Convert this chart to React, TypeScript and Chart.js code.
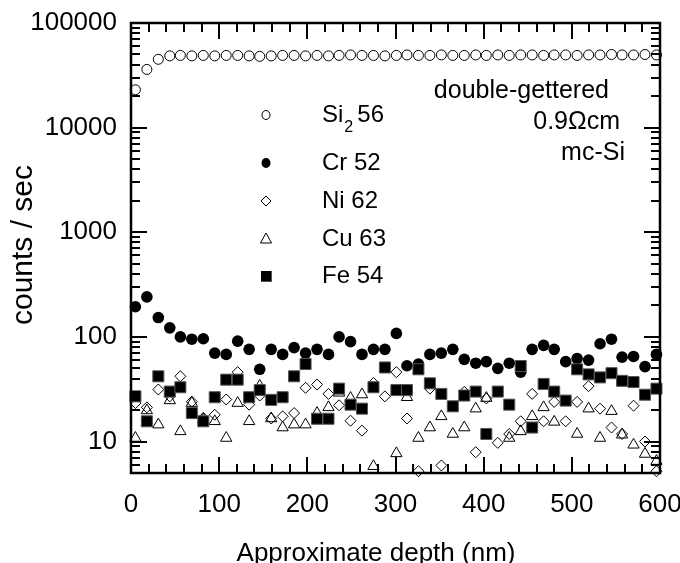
import React, { useEffect, useRef } from 'react';
import { Chart, registerables } from 'chart.js';

Chart.register(...registerables);

const FONT = '"Liberation Sans", Arial, Helvetica, sans-serif';

const depth = [5, 18, 31, 44, 56, 69, 82, 95, 108, 121, 134, 146, 159, 172, 185, 198, 211, 224, 236, 249, 262, 275, 288, 301, 313, 326, 339, 352, 365, 378, 391, 403, 416, 429, 442, 455, 468, 480, 493, 506, 519, 532, 545, 557, 570, 583, 596];

const si56 = [23000, 36000, 45000, 48500, 49000, 48500, 49000, 48500, 49000, 49000, 48500, 48000, 48500, 49000, 49000, 48500, 49000, 48500, 49000, 49500, 49000, 49000, 48500, 49000, 49500, 49000, 49000, 49500, 49000, 49000, 49500, 49000, 49500, 49000, 49500, 49500, 49000, 49500, 49500, 49000, 49500, 49500, 50000, 49500, 49500, 50000, 49500];

const cr52 = [194, 241, 153, 122, 100, 95, 96, 70, 68, 91, 76, 49, 76, 68, 79, 70, 76, 68, 100, 90, 68, 76, 76, 108, 53, 55, 68, 70, 76, 61, 56, 58, 50, 56, 46, 76, 83, 76, 58, 62, 60, 86, 95, 64, 65, 52, 68];

const ni62 = [23.3, 21.2, 31.4, 27, 42, 24, 16.8, 18, 25.2, 46, 22.5, 27.5, 16.6, 17.4, 18.7, 32.6, 35, 28.5, 22.2, 15.8, 12.7, 36.3, 27, 46, 16.6, 5.2, 32, 5.9, 21.7, 29.8, 7.9, 25.8, 9.7, 11.8, 15.6, 28.5, 15.6, 23.9, 15.6, 23.9, 33.8, 20.6, 13.6, 11.8, 22, 10, 5.2];

const cu63 = [10.8, 19.8, 14.5, 24.7, 12.5, 23.3, 16.2, 15.6, 10.8, 23.3, 15.6, 34, 16.6, 13.6, 14.5, 14.5, 18.7, 21.2, 29.2, 26, 28.1, 5.8, null, 7.7, 26.5, 10.8, 13.6, 17.4, 11.8, 13.6, 20.6, 26, null, 10.8, 12.5, 17.4, 21.2, 15.4, null, 11.8, 20.6, 10.8, 19.5, 11.6, 9.3, 7.6, 6.5];

const fe54 = [27, 15.6, 42, 30, 33, 18.7, 15.6, 26.5, 39, 39, 26.5, 31, 25, 26.5, 42, 55, 16.5, 16.5, 32, 22.5, 20.6, 33, 51, 31, 31, 49, 36, 28.5, 21.7, 27.5, 30, 11.8, 30, 22.5, 52.6, 13.6, 35.5, 30, 24.6, 49, 43.8, 41, 45, 38, 37, 28, 32];

const xTickValues = [0, 100, 200, 300, 400, 500, 600];
const yTickLabels = [10, 100, 1000, 10000, 100000];
const legendLabels = ['Si', 'Cr 52', 'Ni 62', 'Cu 63', 'Fe 54'];
const noteLines = ['double-gettered', '0.9\u03A9cm', 'mc-Si'];

const toPts = (vals: (number | null)[]) =>
  depth.map((d, i) => ({ x: d, y: vals[i] })).filter((p) => p.y !== null);

const framePlugin = {
  id: 'frameTicks',
  afterDatasetsDraw(chart: any) {
    const { ctx, chartArea: a, scales } = chart;
    const xs = scales.x;
    const ys = scales.y;
    ctx.save();
    ctx.strokeStyle = '#000';
    ctx.lineCap = 'butt';
    const seg = (x1: number, y1: number, x2: number, y2: number) => {
      ctx.beginPath();
      ctx.moveTo(x1, y1);
      ctx.lineTo(x2, y2);
      ctx.stroke();
    };
    ctx.lineWidth = 2;
    const MAJ = 16;
    const MIN = 9;
    for (let v = 0; v <= 600; v += 20) {
      const px = Math.round(xs.getPixelForValue(v));
      const len = v % 100 === 0 ? MAJ : MIN;
      seg(px, a.bottom, px, a.bottom - len);
      seg(px, a.top, px, a.top + len);
    }
    for (let e = 0; e <= 4; e++) {
      for (let m = 1; m <= 9; m++) {
        const v = m * Math.pow(10, e);
        if (v < 5 || v > 100000) continue;
        const py = Math.round(ys.getPixelForValue(v));
        const len = m === 1 ? MAJ : MIN;
        seg(a.left, py, a.left + len, py);
        seg(a.right, py, a.right - len, py);
      }
    }
    const py = Math.round(ys.getPixelForValue(100000));
    seg(a.left, py, a.left + MAJ, py);
    seg(a.right, py, a.right - MAJ, py);
    ctx.lineWidth = 2.5;
    ctx.strokeRect(a.left, a.top, a.right - a.left, a.bottom - a.top);
    ctx.restore();
  },
};

const textPlugin = {
  id: 'texts',
  afterDraw(chart: any) {
    const { ctx } = chart;
    ctx.save();
    ctx.fillStyle = '#000';
    ctx.strokeStyle = '#000';
    // axis titles
    ctx.font = `26px ${FONT}`;
    ctx.textAlign = 'center';
    ctx.textBaseline = 'alphabetic';
    ctx.fillText('Approximate depth (nm)', 376, 561);
    ctx.save();
    ctx.font = `30px ${FONT}`;
    ctx.textBaseline = 'middle';
    ctx.translate(24, 245);
    ctx.rotate(-Math.PI / 2);
    ctx.fillText('counts / sec', 0, 0);
    ctx.restore();

    // annotation
    ctx.textBaseline = 'middle';
    ctx.textAlign = 'right';
    ctx.font = `25px ${FONT}`;
    ctx.fillText(noteLines[0], 609, 91);
    ctx.fillText(noteLines[1], 620, 122);
    ctx.fillText(noteLines[2], 625, 153);

    // legend
    const mx = 266;
    const tx = 322;
    const rows = [115, 163, 201, 239, 276];
    ctx.lineWidth = 1;
    ctx.beginPath();
    ctx.ellipse(mx, rows[0], 4, 4.5, 0, 0, Math.PI * 2);
    ctx.stroke();
    ctx.beginPath();
    ctx.ellipse(mx, rows[1], 4.5, 5, 0, 0, Math.PI * 2);
    ctx.fill();
    ctx.beginPath();
    ctx.moveTo(mx, rows[2] - 5);
    ctx.lineTo(mx + 5, rows[2]);
    ctx.lineTo(mx, rows[2] + 5);
    ctx.lineTo(mx - 5, rows[2]);
    ctx.closePath();
    ctx.stroke();
    ctx.beginPath();
    ctx.moveTo(mx, rows[3] - 6);
    ctx.lineTo(mx + 5.5, rows[3] + 4);
    ctx.lineTo(mx - 5.5, rows[3] + 4);
    ctx.closePath();
    ctx.stroke();
    ctx.fillStyle = '#555';
    ctx.fillRect(mx - 5, rows[4] - 5, 11, 11);
    ctx.fillStyle = '#000';
    ctx.fillRect(mx - 5, rows[4] - 5, 10, 10);

    ctx.textAlign = 'left';
    ctx.font = `24px ${FONT}`;
    ctx.fillText(legendLabels[0], tx, rows[0]);
    const w = ctx.measureText(legendLabels[0]).width;
    ctx.font = `16px ${FONT}`;
    ctx.fillText('2', tx + w + 1, rows[0] + 13);
    ctx.font = `24px ${FONT}`;
    ctx.fillText('56', tx + w + 14, rows[0]);
    for (let i = 1; i < 5; i++) ctx.fillText(legendLabels[i], tx, rows[i]);
    ctx.restore();
  },
};

export default function App() {
  const ref = useRef<HTMLCanvasElement | null>(null);
  useEffect(() => {
    if (!ref.current) return;
    const common = { showLine: false, clip: false as any };
    const chart = new Chart(ref.current, {
      type: 'scatter',
      data: {
        datasets: [
          {
            label: 'Si2 56',
            data: toPts(si56),
            pointStyle: 'circle',
            pointRadius: 5,
            borderColor: '#000',
            backgroundColor: 'rgba(255,255,255,0)',
            pointBorderWidth: 1,
            order: 5,
            ...common,
          },
          {
            label: 'Cr 52',
            data: toPts(cr52),
            pointStyle: 'circle',
            pointRadius: 5.8,
            borderColor: '#000',
            backgroundColor: '#000',
            pointBorderWidth: 0,
            order: 4,
            ...common,
          },
          {
            label: 'Ni 62',
            data: toPts(ni62),
            pointStyle: 'rectRot',
            pointRadius: 5.5,
            borderColor: '#000',
            backgroundColor: 'rgba(255,255,255,0)',
            pointBorderWidth: 1,
            order: 3,
            ...common,
          },
          {
            label: 'Cu 63',
            data: toPts(cu63),
            pointStyle: 'triangle',
            pointRadius: 6.5,
            borderColor: '#000',
            backgroundColor: 'rgba(255,255,255,0)',
            pointBorderWidth: 1,
            order: 2,
            ...common,
          },
          {
            label: 'Fe 54',
            data: toPts(fe54),
            pointStyle: 'rect',
            pointRadius: 7.8,
            borderColor: '#555',
            backgroundColor: '#000',
            pointBorderWidth: 1,
            order: 1,
            ...common,
          },
        ],
      },
      options: {
        animation: false,
        responsive: false,
        events: [],
        layout: { padding: { left: 0, right: 20, top: 23, bottom: 0 } },
        plugins: {
          legend: { display: false },
          tooltip: { enabled: false },
          title: { display: false },
        },
        scales: {
          x: {
            type: 'linear',
            min: 0,
            max: 600,
            afterFit: (s: any) => {
              s.height = 90;
              s.paddingRight = 0;
              s.paddingLeft = 0;
            },
            afterBuildTicks: (s: any) => {
              s.ticks = xTickValues.map((v) => ({ value: v }));
            },
            grid: { display: false, drawTicks: false },
            border: { display: false },
            ticks: {
              color: '#000',
              font: { family: FONT, size: 26 },
              padding: 16,
              maxRotation: 0,
              autoSkip: false,
            },
          },
          y: {
            type: 'logarithmic',
            min: 5,
            max: 100000,
            afterFit: (s: any) => {
              s.width = 131;
              s.paddingTop = 0;
              s.paddingBottom = 0;
            },
            afterBuildTicks: (s: any) => {
              s.ticks = yTickLabels.map((v) => ({ value: v }));
            },
            grid: { display: false, drawTicks: false },
            border: { display: false },
            ticks: {
              color: '#000',
              font: { family: FONT, size: 26 },
              padding: 14,
              autoSkip: false,
              callback: (v: any) => String(v),
            },
          },
        },
      },
      plugins: [framePlugin, textPlugin],
    });
    return () => chart.destroy();
  }, []);
  return (
    <div style={{ position: 'absolute', left: 0, top: 0, width: 680, height: 563, background: '#fff' }}>
      <canvas ref={ref} width={680} height={563} style={{ display: 'block' }} />
    </div>
  );
}
